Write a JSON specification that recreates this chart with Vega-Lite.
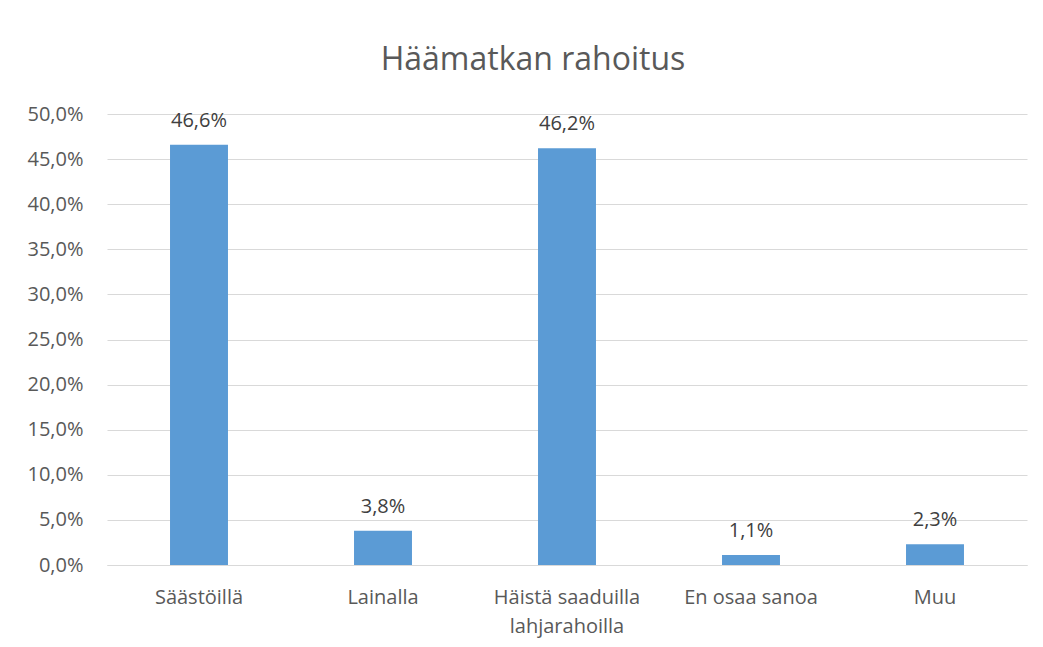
{
  "$schema": "https://vega.github.io/schema/vega-lite/v6.json",
  "autosize": "none",
  "width": 920,
  "height": 451,
  "padding": {"left": 107, "top": 114, "right": 16, "bottom": 82},
  "background": "white",
  "config": {
    "locale": {"number": {"decimal": ",", "thousands": " ", "grouping": [3], "currency": ["", " €"]}},
    "font": "Open Sans",
    "view": {"stroke": null}
  },
  "title": {
    "text": "Häämatkan rahoitus",
    "fontSize": 32,
    "fontWeight": "normal",
    "color": "#595959",
    "font": "Open Sans",
    "baseline": "alphabetic",
    "offset": 2,
    "dx": -34
  },
  "data": {
    "values": [
      {"kategoria": "Säästöillä", "osuus": 0.466},
      {"kategoria": "Lainalla", "osuus": 0.038},
      {"kategoria": "Häistä saaduilla lahjarahoilla", "osuus": 0.462},
      {"kategoria": "En osaa sanoa", "osuus": 0.011},
      {"kategoria": "Muu", "osuus": 0.023}
    ]
  },
  "encoding": {
    "x": {
      "field": "kategoria",
      "type": "nominal",
      "sort": null,
      "scale": {"paddingInner": 0, "paddingOuter": 0},
      "axis": {
        "title": null,
        "labelAngle": 0,
        "labelFontSize": 20,
        "labelColor": "#595959",
        "labelPadding": 22,
        "labelLineHeight": 29,
        "ticks": false,
        "domainColor": "#D9D9D9",
        "domainWidth": 1,
        "labelExpr": "datum.label == 'Häistä saaduilla lahjarahoilla' ? ['Häistä saaduilla', 'lahjarahoilla'] : datum.label"
      }
    },
    "y": {
      "field": "osuus",
      "type": "quantitative",
      "scale": {"domain": [0, 0.5], "nice": false},
      "axis": {
        "title": null,
        "format": ".1%",
        "values": [0, 0.05, 0.1, 0.15, 0.2, 0.25, 0.3, 0.35, 0.4, 0.45, 0.5],
        "labelFontSize": 20,
        "labelColor": "#595959",
        "labelPadding": 24,
        "ticks": false,
        "domain": false,
        "gridColor": "#D9D9D9",
        "gridWidth": 1
      }
    }
  },
  "layer": [
    {
      "mark": {"type": "bar", "color": "#5B9BD5", "width": {"band": 0.315}}
    },
    {
      "mark": {"type": "text", "baseline": "alphabetic", "dy": -18, "fontSize": 20, "color": "#404040", "font": "Open Sans"},
      "encoding": {
        "text": {"field": "osuus", "type": "quantitative", "format": ".1%"}
      }
    }
  ]
}
